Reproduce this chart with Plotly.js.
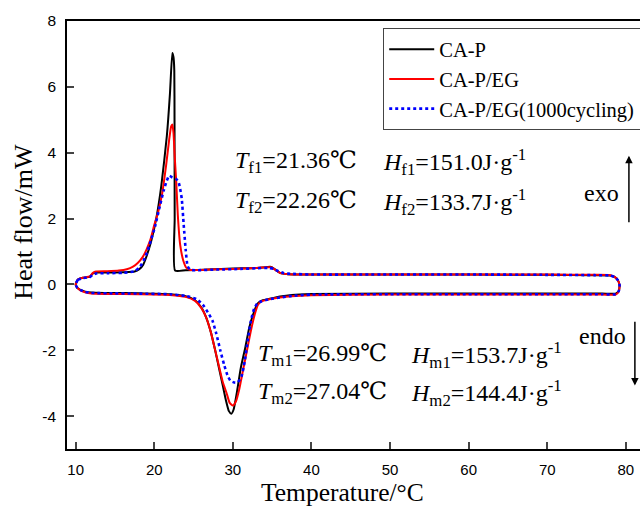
<!DOCTYPE html>
<html>
<head>
<meta charset="utf-8">
<script src="https://cdn.plot.ly/plotly-3.0.1.min.js"></script>
<style>html,body{margin:0;padding:0;background:#fff;}#chart{width:640px;height:506px;}</style>
</head>
<body>
<div id="chart"></div>
<script>
// ---- Data ----
const seriesNames = ["CA-P", "CA-P/EG", "CA-P/EG(1000cycling)"];

// CA-P : exothermic (upper) branch, left to right
const caP_upper_x = [10.0, 10.3, 10.9, 11.8, 12.2, 12.6, 14, 16, 17.5, 18.1, 18.6, 19.0, 19.6, 20.3, 20.9, 21.6, 22.0, 22.3, 22.45, 22.55, 22.58, 22.6, 22.65, 24, 27, 30, 33, 34.4, 34.9, 35.4, 36.0, 37, 40, 50, 60, 70, 76, 78.0, 78.6, 79.0, 79.2];
const caP_upper_y = [0, 0.15, 0.2, 0.23, 0.33, 0.36, 0.36, 0.37, 0.39, 0.46, 0.6, 0.84, 1.3, 2.06, 3.0, 4.5, 5.8, 7.03, 6.9, 6.5, 5.0, 2.0, 0.42, 0.43, 0.45, 0.48, 0.5, 0.53, 0.53, 0.45, 0.35, 0.31, 0.3, 0.3, 0.3, 0.29, 0.28, 0.27, 0.22, 0.12, -0.02];
// CA-P : endothermic (lower) branch, right to left
const caP_lower_x = [79.1, 78.7, 77, 70, 60, 50, 40, 37.5, 36, 34.5, 33.6, 33.1, 32.6, 32.1, 31.6, 31.0, 30.5, 30.1, 29.8, 29.5, 29.1, 28.7, 28.2, 27.7, 27.2, 26.6, 26.0, 25.2, 24.0, 22, 18, 14, 12, 11.2, 10.6, 10.2, 10];
const caP_lower_y = [-0.2, -0.28, -0.28, -0.28, -0.28, -0.28, -0.29, -0.32, -0.37, -0.45, -0.5, -0.6, -0.9, -1.3, -1.9, -2.55, -3.3, -3.8, -3.93, -3.85, -3.5, -3.05, -2.5, -1.95, -1.45, -1.0, -0.7, -0.48, -0.36, -0.3, -0.27, -0.26, -0.25, -0.22, -0.17, -0.1, 0];

// CA-P/EG
const caPEG_upper_x = [10.0, 10.3, 10.9, 11.8, 12.2, 12.6, 14, 15.5, 16.5, 17.3, 17.9, 18.5, 19.0, 19.5, 20.0, 20.5, 21.0, 21.5, 21.9, 22.15, 22.3, 22.45, 22.6, 22.8, 23.0, 23.3, 23.7, 24.1, 24.6, 27, 30, 33, 34.4, 34.9, 35.4, 36.0, 37, 40, 50, 60, 70, 76, 78.0, 78.6, 79.0, 79.2];
const caPEG_upper_y = [0, 0.15, 0.2, 0.24, 0.35, 0.39, 0.4, 0.42, 0.46, 0.54, 0.65, 0.82, 1.05, 1.35, 1.8, 2.2, 2.75, 3.6, 4.4, 4.8, 4.86, 4.6, 3.9, 3.1, 2.1, 1.2, 0.72, 0.5, 0.44, 0.45, 0.47, 0.5, 0.52, 0.52, 0.44, 0.35, 0.31, 0.3, 0.3, 0.3, 0.3, 0.29, 0.28, 0.22, 0.12, -0.02];
const caPEG_lower_x = [79.1, 78.7, 77, 70, 60, 50, 40, 37.5, 36, 34.5, 33.6, 33.2, 32.8, 32.3, 31.8, 31.3, 30.8, 30.4, 30.0, 29.6, 29.2, 28.7, 28.2, 27.7, 27.2, 26.6, 26.0, 25.2, 24.0, 22, 18, 14, 12, 11.2, 10.6, 10.2, 10];
const caPEG_lower_y = [-0.22, -0.31, -0.31, -0.31, -0.31, -0.31, -0.33, -0.36, -0.4, -0.46, -0.52, -0.62, -0.9, -1.4, -2.0, -2.6, -3.2, -3.55, -3.68, -3.6, -3.3, -2.95, -2.45, -1.95, -1.45, -1.0, -0.72, -0.5, -0.38, -0.32, -0.3, -0.29, -0.28, -0.24, -0.18, -0.1, 0];

// CA-P/EG after 1000 cycles
const cyc_upper_x = [10.0, 10.3, 10.9, 11.8, 12.2, 12.6, 14, 16, 17.5, 18.2, 18.8, 19.4, 20.1, 20.7, 21.2, 21.6, 21.9, 22.3, 22.8, 23.1, 23.3, 23.5, 23.75, 24.0, 24.25, 24.6, 25.5, 28, 31, 33, 34.5, 35.2, 35.8, 36.5, 37.5, 40, 50, 60, 70, 76, 78.0, 78.6, 79.0, 79.2];
const cyc_upper_y = [0, 0.14, 0.19, 0.22, 0.3, 0.33, 0.34, 0.35, 0.4, 0.54, 0.8, 1.2, 1.76, 2.37, 2.85, 3.15, 3.3, 3.25, 3.2, 3.1, 2.9, 2.6, 1.8, 1.05, 0.55, 0.44, 0.43, 0.45, 0.47, 0.49, 0.5, 0.47, 0.4, 0.34, 0.32, 0.3, 0.3, 0.3, 0.29, 0.28, 0.27, 0.22, 0.12, -0.02];
const cyc_lower_x = [79.1, 78.7, 77, 70, 60, 50, 40, 37.5, 36, 34.5, 33.6, 33.1, 32.7, 32.3, 31.9, 31.5, 31.1, 30.6, 30.2, 29.7, 29.3, 28.9, 28.4, 27.9, 27.4, 26.85, 26.2, 25.4, 24.0, 22, 18, 14, 12, 11.2, 10.6, 10.2, 10];
const cyc_lower_y = [-0.2, -0.3, -0.3, -0.3, -0.3, -0.3, -0.31, -0.35, -0.4, -0.46, -0.52, -0.58, -0.75, -1.1, -1.7, -2.35, -2.8, -2.98, -2.98, -2.93, -2.75, -2.45, -2.0, -1.5, -1.1, -0.86, -0.62, -0.45, -0.35, -0.3, -0.28, -0.27, -0.26, -0.23, -0.17, -0.1, 0];

const xTickVals = [10, 20, 30, 40, 50, 60, 70, 80];
const xTickText = ["10", "20", "30", "40", "50", "60", "70", "80"];
const yTickVals = [-4, -2, 0, 2, 4, 6, 8];
const yTickText = ["-4", "-2", "0", "2", "4", "6", "8"];

// ---- Build traces ----
const serif = "'Liberation Serif', 'DejaVu Serif', serif";
const sans = "'Liberation Sans', Arial, sans-serif";

const traces = [
  {x: caP_upper_x.concat(caP_lower_x), y: caP_upper_y.concat(caP_lower_y), name: seriesNames[0],
   mode: "lines", line: {color: "#000000", width: 2, shape: "spline", smoothing: 0.5}},
  {x: caPEG_upper_x.concat(caPEG_lower_x), y: caPEG_upper_y.concat(caPEG_lower_y), name: seriesNames[1],
   mode: "lines", line: {color: "#ff0000", width: 2, shape: "spline", smoothing: 0.5}},
  {x: cyc_upper_x.concat(cyc_lower_x), y: cyc_upper_y.concat(cyc_lower_y), name: seriesNames[2],
   mode: "lines", line: {color: "#0000ff", width: 2.6, dash: "3px,3px", shape: "spline", smoothing: 0.5}}
];

const annFont = {family: serif, size: 24, color: "#000"};
function txt(x, y, text, extra) {
  return Object.assign({x: x, y: y, xref: "x", yref: "y", text: text, showarrow: false,
    xanchor: "left", yanchor: "middle", font: annFont}, extra || {});
}

const annotations = [
  txt(30.0, 3.73, "<i>T</i><sub>f1</sub>=21.36℃"),
  txt(48.8, 3.73, "<i>H</i><sub>f1</sub>=151.0J·g<sup>-1</sup>"),
  txt(30.0, 2.5, "<i>T</i><sub>f2</sub>=22.26℃"),
  txt(48.9, 2.5, "<i>H</i><sub>f2</sub>=133.7J·g<sup>-1</sup>"),
  txt(33.0, -2.13, "<i>T</i><sub>m1</sub>=26.99℃"),
  txt(52.4, -2.13, "<i>H</i><sub>m1</sub>=153.7J·g<sup>-1</sup>"),
  txt(33.0, -3.30, "<i>T</i><sub>m2</sub>=27.04℃"),
  txt(52.4, -3.30, "<i>H</i><sub>m2</sub>=144.4J·g<sup>-1</sup>"),
  txt(74.4, 2.78, "exo"),
  txt(73.8, -1.56, "endo"),
  {x: 80.39, y: 3.91, ax: 80.39, ay: 1.84, xref: "x", yref: "y", axref: "x", ayref: "y", text: "",
   showarrow: true, arrowhead: 2, arrowsize: 1, arrowwidth: 1.5, arrowcolor: "#000"},
  {x: 81.15, y: -3.07, ax: 81.15, ay: -1.09, xref: "x", yref: "y", axref: "x", ayref: "y", text: "",
   showarrow: true, arrowhead: 2, arrowsize: 1, arrowwidth: 1.5, arrowcolor: "#000"},
  // axis titles
  {x: 0.48, y: -0.1028, xref: "paper", yref: "paper", text: "Temperature/°C", showarrow: false,
   xanchor: "center", yanchor: "middle", borderpad: 0, font: {family: serif, size: 25.5, color: "#000"}},
  {x: -0.075, y: 0.531, xref: "paper", yref: "paper", text: "Heat flow/mW", showarrow: false, textangle: -90,
   xanchor: "center", yanchor: "middle", font: {family: serif, size: 26, color: "#000"}}
];

const layout = {
  width: 640, height: 506,
  margin: {l: 67, r: 0, t: 21, b: 57, autoexpand: false},
  paper_bgcolor: "#ffffff", plot_bgcolor: "#ffffff",
  showlegend: true,
  legend: {x: 0.5515, y: 0.983, xanchor: "left", yanchor: "top", bgcolor: "#ffffff",
    bordercolor: "#444", borderwidth: 1.2, font: {family: serif, size: 20.5, color: "#000"},
    itemwidth: 45, tracegroupgap: 0},
  xaxis: {range: [8.9, 81.8], tickvals: xTickVals, ticktext: xTickText, ticks: "inside", ticklen: 7, tickwidth: 1.5,
    showline: true, linewidth: 1.5, linecolor: "#000", mirror: true, showgrid: false, zeroline: false,
    tickfont: {family: sans, size: 15, color: "#000"}, ticklabelstandoff: 6},
  yaxis: {range: [-5, 8], tickvals: yTickVals, ticktext: yTickText, ticks: "inside", ticklen: 7, tickwidth: 1.5,
    showline: true, linewidth: 1.5, linecolor: "#000", mirror: true, showgrid: false, zeroline: false,
    tickfont: {family: sans, size: 15.5, color: "#000"}, ticklabelstandoff: 6},
  annotations: annotations
};

Plotly.newPlot("chart", traces, layout, {displayModeBar: false});
</script>
</body>
</html>
